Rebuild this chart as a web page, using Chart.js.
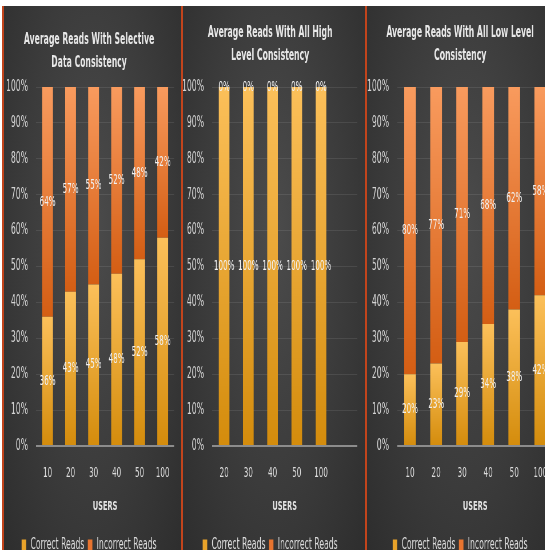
<!DOCTYPE html>
<html>
<head>
<meta charset="utf-8">
<script src="https://cdn.jsdelivr.net/npm/chart.js@4/dist/chart.umd.min.js"></script>
<style>
  html, body { margin: 0; padding: 0; background: #fff; }
  #wrap { position: relative; width: 545px; height: 550px; overflow: hidden; }
  .panel { position: absolute; top: 6px; height: 557px; overflow: hidden;
    background: radial-gradient(ellipse at 50% 40%, #4b4b4b 0%, #3b3b3b 55%, #2d2d2d 100%); }
  .sep { position: absolute; top: 6px; height: 544px; width: 2px; background: #c2441c; }
  canvas { display: block; transform-origin: 0 0; }
</style>
</head>
<body>
<div id="wrap">
  <div class="sep" style="left:2px"></div>
  <div class="panel" id="p1" style="left:4px;width:177px"></div>
  <div class="sep" style="left:181px"></div>
  <div class="panel" id="p2" style="left:183px;width:182px"></div>
  <div class="sep" style="left:365px"></div>
  <div class="panel" id="p3" style="left:367px;width:194px"></div>
</div>
<script>
// данные
let usersSelective = ['10', '20', '30', '40', '50', '100'];
let correctSelective = [36, 43, 45, 48, 52, 58];
let incorrectSelective = [64, 57, 55, 52, 48, 42];

let usersHigh = ['20', '30', '40', '50', '100', ''];
let correctHigh = [100, 100, 100, 100, 100];
let incorrectHigh = [0, 0, 0, 0, 0];

let usersLow = ['10', '20', '30', '40', '50', '100'];
let correctLow = [20, 23, 29, 34, 38, 42];
let incorrectLow = [80, 77, 71, 68, 62, 58];

let yTicks = [0, 10, 20, 30, 40, 50, 60, 70, 80, 90, 100];

const FONT = "'DejaVu Sans Condensed', 'DejaVu Sans', sans-serif";
Chart.defaults.font.family = FONT;

// исходный график сжат по горизонтали — рисуем шире и сжимаем
const S = 1.75;

// градиент для каждого сегмента
let segGradient = function (colors, starts, values) {
  return function (c) {
    let y = c.chart.scales.y;
    if (!y || c.type !== 'data') return colors[2];
    let i = c.dataIndex;
    let y0 = y.getPixelForValue(starts[i]);
    let y1 = y.getPixelForValue(Math.min(starts[i] + values[i], 100));
    if (!isFinite(y0) || !isFinite(y1) || y0 === y1) return colors[2];
    let g = c.chart.ctx.createLinearGradient(0, y1, 0, y0);
    g.addColorStop(0, colors[0]);
    g.addColorStop(1, colors[1]);
    return g;
  };
};

// подписи в центре сегментов
let barLabels = {
  id: 'barLabels',
  afterDatasetsDraw: function (chart) {
    let ctx = chart.ctx;
    ctx.save();
    ctx.font = '14px ' + FONT;
    ctx.fillStyle = '#f0f0f0';
    ctx.textAlign = 'center';
    ctx.textBaseline = 'middle';
    chart.data.datasets.forEach(function (ds, di) {
      chart.getDatasetMeta(di).data.forEach(function (bar, i) {
        let v = ds.data[i];
        if (v === undefined || v === null) return;
        let top = Math.max(bar.y, chart.chartArea.top);
        ctx.fillText(v + '%', bar.x, (top + bar.base) / 2);
      });
    });
    ctx.restore();
  }
};

let paintChart = function (panelId, width, title, titleTop, labels, correct, incorrect, yWidth, padRight, barPct) {
  let canvas = document.createElement('canvas');
  canvas.width = Math.round(width * S);
  canvas.height = 557;
  canvas.style.transform = 'scaleX(' + (1 / S) + ')';
  document.getElementById(panelId).appendChild(canvas);

  let zeros = correct.map(function () { return 0; });
  return new Chart(canvas, {
    type: 'bar',
    data: {
      labels: labels,
      datasets: [{
        label: 'Correct Reads',
        data: correct,
        backgroundColor: segGradient(['#fcc05a', '#d48c0c', '#e9a32a'], zeros, correct),
        categoryPercentage: 1,
        barPercentage: barPct,
        clip: 0
      }, {
        label: 'Incorrect Reads',
        data: incorrect,
        backgroundColor: segGradient(['#f99b5e', '#d45e14', '#e8742f'], correct, incorrect),
        categoryPercentage: 1,
        barPercentage: barPct,
        clip: 0
      }]
    },
    options: {
      responsive: false,
      animation: false,
      devicePixelRatio: 1,
      layout: { padding: { left: 0, right: padRight * S, top: 0, bottom: 0 } },
      plugins: {
        title: {
          display: true,
          text: title,
          color: '#e8e8e8',
          font: { size: 15, weight: 'bold', lineHeight: 23 / 15 },
          padding: { top: titleTop, bottom: 81 - titleTop - 46 }
        },
        legend: {
          position: 'bottom',
          labels: {
            color: '#dcdcdc',
            font: { size: 15 },
            boxWidth: 8,
            boxHeight: 12,
            padding: 6,
            generateLabels: function (chart) {
              let items = Chart.defaults.plugins.legend.labels.generateLabels(chart);
              items[0].fillStyle = '#e9a32a';
              items[1].fillStyle = '#e8742f';
              return items;
            }
          }
        },
        tooltip: { enabled: false }
      },
      scales: {
        x: {
          stacked: true,
          grid: { display: false },
          border: { display: false },
          ticks: { color: '#dcdcdc', font: { size: 14 }, padding: 11, maxRotation: 0, autoSkip: false },
          title: {
            display: true,
            text: 'USERS',
            color: '#e4e4e4',
            font: { size: 13, weight: 'bold' },
            padding: { top: 0, bottom: 18 }
          },
          afterFit: function (s) { s.height = 86; }
        },
        y: {
          stacked: true,
          min: 0,
          max: 100,
          afterBuildTicks: function (s) { s.ticks = yTicks.map(function (v) { return { value: v }; }); },
          ticks: {
            color: '#d4d4d4',
            font: { size: 15 },
            padding: 8 * S,
            callback: function (v) { return v + '%'; }
          },
          grid: {
            drawTicks: false,
            color: function (c) { return c.tick && c.tick.value === 0 ? '#8c8c8c' : 'rgba(255,255,255,0.09)'; },
            lineWidth: function (c) { return c.tick && c.tick.value === 0 ? 2 : 1; }
          },
          border: { display: false },
          afterFit: function (s) { s.width = yWidth * S; }
        }
      }
    },
    plugins: [barLabels]
  });
};

paintChart('p1', 177, ['Average Reads With Selective', 'Data Consistency'], 22.5,
  usersSelective, correctSelective, incorrectSelective, 32, 7, 0.47);
paintChart('p2', 182, ['Average Reads With All High', 'Level Consistency'], 15.5,
  usersHigh, correctHigh, incorrectHigh, 29, 8, 0.44);
paintChart('p3', 194, ['Average Reads With All Low Level', 'Consistency'], 15.5,
  usersLow, correctLow, incorrectLow, 30, 8, 0.45);
</script>
</body>
</html>
